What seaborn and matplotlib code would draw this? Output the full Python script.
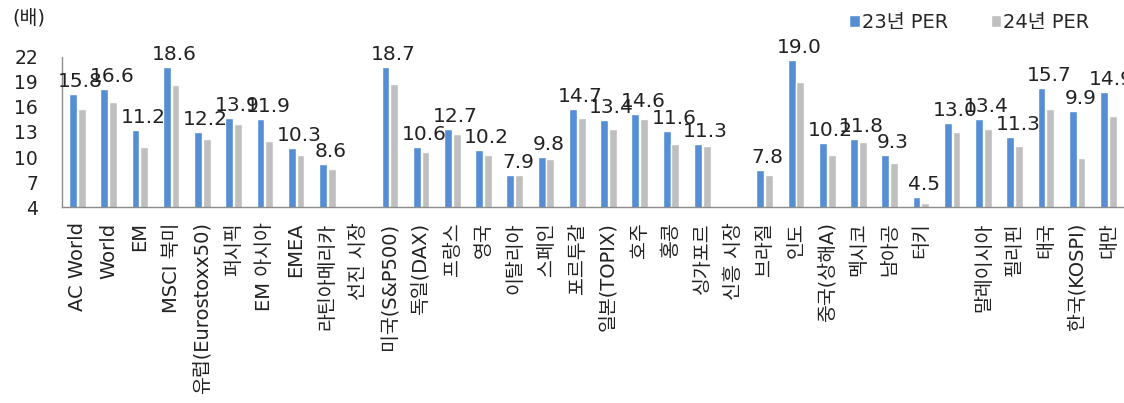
import numpy as np
import pandas as pd
import matplotlib
matplotlib.use("Agg")
import matplotlib.pyplot as plt
import seaborn as sns

# Data
categories = ["AC World", "World", "EM", "MSCI 북미", "유럽(Eurostoxx50)", "퍼시픽",
              "EM 아시아", "EMEA", "라틴아메리카", "선진 시장", "미국(S&P500)", "독일(DAX)",
              "프랑스", "영국", "이탈리아", "스페인", "포르투갈", "일본(TOPIX)", "호주", "홍콩",
              "싱가포르", "신흥 시장", "브라질", "인도", "중국(상해A)", "멕시코", "남아공", "터키",
              "", "말레이시아", "필리핀", "태국", "한국(KOSPI)", "대만"]
nan = float("nan")
per_23 = [17.5, 18.2, 13.2, 20.8, 13.0, 14.7, 14.6, 11.1, 9.2, nan, 20.8, 11.2,
          13.4, 10.8, 7.8, 10.0, 15.8, 14.4, 15.2, 13.1, 11.6, nan, 8.4, 21.6,
          11.7, 12.2, 10.3, 5.2, 14.1, 14.6, 12.4, 18.3, 15.5, 17.8]
per_24 = [15.8, 16.6, 11.2, 18.6, 12.2, 13.9, 11.9, 10.3, 8.6, nan, 18.7, 10.6,
          12.7, 10.2, 7.9, 9.8, 14.7, 13.4, 14.6, 11.6, 11.3, nan, 7.8, 19.0,
          10.2, 11.8, 9.3, 4.5, 13.0, 13.4, 11.3, 15.7, 9.9, 14.9]
series = ["23년 PER", "24년 PER"]
y_ticks = [4, 7, 10, 13, 16, 19, 22]

sns.set_style("white")
plt.rcParams['font.family'] = ['DejaVu Sans', 'Noto Sans CJK KR']

df = pd.DataFrame({
    "지수": categories * 2,
    "PER": per_23 + per_24,
    "구분": [series[0]] * len(categories) + [series[1]] * len(categories),
})

blue = "#558ED5"
gray = "#BFBFBF"

fig = plt.figure(figsize=(11.24, 4.03), dpi=100)
ax = fig.add_axes([0.055, 0.486, 0.945, 0.373])

sns.barplot(data=df, x="지수", y="PER", hue="구분", order=categories,
            hue_order=series, palette=[blue, gray], width=0.56, gap=0.1,
            errorbar=None, saturation=1, ax=ax)

ax.set_ylim(4, 22)
ax.set_xlim(-0.5, len(categories) - 0.5)
ax.set_yticks(y_ticks)
ax.set_xlabel("")
ax.set_ylabel("")

# value labels (24년 PER) over each group
for i, (b, g) in enumerate(zip(per_23, per_24)):
    if np.isnan(g):
        continue
    ax.text(i + 0.1, max(b, g) + 1.5, f"{g:.1f}", ha="center", va="center",
            fontsize=14.5, color="#222222")

for s in ["top", "right"]:
    ax.spines[s].set_visible(False)
for s in ["left", "bottom"]:
    ax.spines[s].set_color("#8C8C8C")
    ax.spines[s].set_linewidth(1)

ax.tick_params(axis="y", direction="in", length=4, color="#8C8C8C",
               labelsize=13.5, pad=17, labelcolor="#222222")
ax.set_xticks(np.arange(len(categories)))
ax.set_xticklabels(categories, rotation=90, fontsize=14, color="#222222")
ax.tick_params(axis="x", length=0, pad=11)
ax.set_xticks(np.arange(len(categories) + 1) - 0.5, minor=True)
ax.tick_params(axis="x", which="minor", direction="in", length=5, color="#8C8C8C")

handles, labels = ax.get_legend_handles_labels()
ax.legend(handles, labels, loc="center right", bbox_to_anchor=(0.985, 0.945),
          bbox_transform=fig.transFigure, ncol=2, frameon=False,
          handlelength=0.55, handleheight=0.55, handletextpad=0.1,
          columnspacing=2.2, fontsize=14)

fig.text(0.011, 0.955, "(배)", fontsize=14, va="center", color="#222222")

fig.savefig("out.png", dpi=100)
